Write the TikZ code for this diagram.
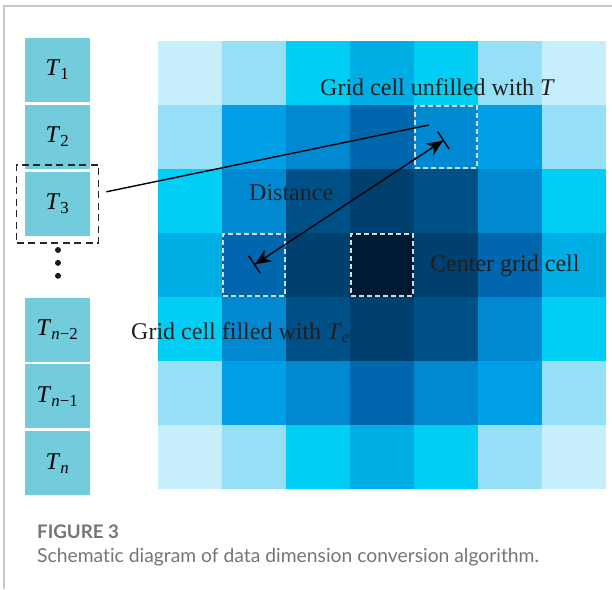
\documentclass[tikz,border=0pt]{standalone}
\usepackage{fontspec}
\setmainfont{Liberation Serif}
\newfontfamily\capfont[Ligatures=NoCommon]{Lato}
\usetikzlibrary{positioning,arrows.meta}

\definecolor{gA}{HTML}{C6EEFB}
\definecolor{gB}{HTML}{95E0F7}
\definecolor{gC}{HTML}{00CEF5}
\definecolor{gD}{HTML}{00AEE6}
\definecolor{gE}{HTML}{009FE6}
\definecolor{gF}{HTML}{0088D0}
\definecolor{gG}{HTML}{0067AF}
\definecolor{gH}{HTML}{005088}
\definecolor{gI}{HTML}{00406F}
\definecolor{gJ}{HTML}{001A33}
\definecolor{tfill}{HTML}{72CCDB}
\definecolor{capgray}{HTML}{757575}

\begin{document}
\begin{tikzpicture}[x=1pt, y=-1pt,
  tbox/.style={rectangle, fill=tfill, minimum width=65pt, minimum height=64pt, inner sep=0pt, font=\fontsize{24}{28}\selectfont},
  cell/.style={rectangle, minimum size=64pt, inner sep=0pt},
  dashcell/.style={rectangle, draw=white!85!black, dash pattern=on 5pt off 3pt, line width=1.2pt, minimum size=62pt, inner sep=0pt},
  lbl/.style={anchor=base west, inner sep=0pt, text=black!88, font=\fontsize{24}{28}\selectfont},
  dot/.style={circle, fill=black!90, minimum size=6pt, inner sep=0pt}]

\useasboundingbox (0,0) rectangle (612,589);
\draw[black!22, line width=1.2pt] (612,6) -- (4,6) -- (4,589);

\node[tbox] (t1) at (57.5,70) {\textit{T}\textsubscript{1}};
\node[tbox, below=2.5pt of t1] (t2) {\textit{T}\textsubscript{2}};
\node[tbox, below=2.5pt of t2] (t3) {\textit{T}\textsubscript{3}};
\node[dot] (d1) at (58,250) {};
\node[dot, below=6.5pt of d1] (d2) {};
\node[dot, below=6.5pt of d2] (d3) {};
\node[tbox] (tn2) at (57.5,329.5) {\textit{T}\textsubscript{\textit{n}−2}};
\node[tbox, below=2.5pt of tn2] (tn1) {\textit{T}\textsubscript{\textit{n}−1}};
\node[tbox, below=2.5pt of tn1] (tn) {\textit{T}\textsubscript{\textit{n}}};
\node[draw, black!85, line width=1.6pt, dash pattern=on 7pt off 4.5pt, minimum width=82pt, minimum height=78pt] (sel) at (t3) {};

\foreach \row [count=\i from 0] in {{gA,gB,gC,gD,gC,gB,gA},{gB,gE,gF,gG,gF,gE,gB},{gC,gF,gH,gI,gH,gF,gC},{gD,gG,gI,gJ,gI,gG,gD},{gC,gF,gH,gI,gH,gF,gC},{gB,gE,gF,gG,gF,gE,gB},{gA,gB,gC,gD,gC,gB,gA}}
  \foreach \c [count=\j from 0] in \row
    \node[cell, fill=\c] (c\i\j) at (190+64*\j, 73+64*\i) {};

\node[dashcell] (unfilled) at (c14) {};
\node[dashcell] (filled) at (c31) {};
\node[dashcell] (centre) at (c33) {};

\node[lbl] (lunf) at (320,95) {Grid cell unfilled with \textit{T}};
\node[lbl] (ldist) at (249,200) {Distance};
\node[lbl] (lcen) at (430,271) {Center grid cell};
\node[lbl] (lfil) at (131,339) {Grid cell filled with \textit{T}\textsubscript{\textit{e}}};

\draw[line width=1.4pt] ([shift={(7,-12)}]sel.east) -- ([shift={(-17,-12)}]unfilled.center);
\draw[line width=1.4pt, {Bar[width=21pt]Stealth[length=16pt,width=14pt]}-{Stealth[length=16pt,width=14pt]Bar[width=21pt]}] (filled.center) -- ([shift={(-2,3)}]unfilled.center);

\node[anchor=base west, inner sep=0pt, text=capgray, font=\capfont\bfseries\fontsize{18.7}{22}\selectfont] (figno) at (37,538) {FIGURE 3};
\node[anchor=base west, inner sep=0pt, text=capgray, font=\capfont\fontsize{19.3}{22}\selectfont] (figcap) at (37,562.5) {Schematic diagram of data dimension conversion algorithm.};

\end{tikzpicture}
\end{document}
